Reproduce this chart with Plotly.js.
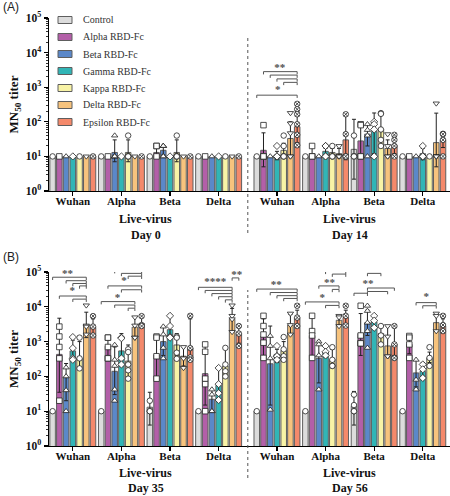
<!DOCTYPE html>
<html><head><meta charset="utf-8">
<script src="https://cdn.plot.ly/plotly-3.0.1.min.js"></script>
<style>html,body{margin:0;padding:0;background:#fff}#chart{width:450px;height:496px}</style>
</head><body><div id="chart"></div>
<script>
// ---------------- data ----------------
const groupNames = ['Wuhan','Alpha','Beta','Delta','Wuhan','Alpha','Beta','Delta'];
const seriesNames = ['Control','Alpha RBD-Fc','Beta RBD-Fc','Gamma RBD-Fc','Kappa RBD-Fc','Delta RBD-Fc','Epsilon RBD-Fc'];
const dayLabelsA = ['Day 0','Day 14'];
const dayLabelsB = ['Day 35','Day 56'];
const axisLabel = 'Live-virus';
const yTitle = 'MN<sub>50</sub> titer';
const yTickVals = [1,10,100,1000,10000,100000];
const yTickText = ['10<sup>0</sup>','10<sup>1</sup>','10<sup>2</sup>','10<sup>3</sup>','10<sup>4</sup>','10<sup>5</sup>'];

// Panel A (Day 0 | Day 14): [series][group]
const meanA = [
  [10,10,10,10, 10,10,16,10],
  [10,10,13,10, 15,12,28,10],
  [10,13,15,10, 10,10,44,10],
  [10,10,10,10, 11,14,52,12],
  [10,13,13,10, 15,13,61,10],
  [10,10,10,10, 33,12,17,25],
  [10,10,10,10, 72,30,21,30]
];
const upperA = [
  [null,null,null,null, null,null,118,null],
  [null,null,20,null, 48,18,80,null],
  [null,30,20,null, null,null,85,null],
  [null,null,null,null, 14,17,180,17],
  [null,30,30,null, 24,17,180,null],
  [null,null,null,null, 100,17,30,178],
  [null,null,null,null, 200,165,44,44]
];
const lowerA = [
  [null,null,null,null, null,null,2.2,null],
  [null,null,9,null, 5,9,10,null],
  [null,7,11,null, null,null,20,null],
  [null,null,null,null, 8,11,12,8],
  [null,7,7,null, 9,10,20,null],
  [null,null,null,null, 10,9,10,5],
  [null,null,null,null, 25,8,12,18]
];
const pointsA = [
  [[10],[10],[10],[10],[10],[10],[40,10,10,10],[10]],
  [[10],[10],[20,20,10],[10],[80,10,10,10],[20,10,10],[85,80,10,10],[10]],
  [[10],[40,10,10,10,10],[20,20,20,10,10],[10],[10],[10],[85,58,40,10],[10]],
  [[10],[10],[10],[10],[20,10,10],[20,20,10,10],[100,85,60,10],[20,10,10,10]],
  [[10],[40,10,10,10,10],[40,10,10,10,10],[10],[40,20,10,10,10],[20,10,10,10],[178,170,60,30,20],[10]],
  [[10],[10],[10],[10],[180,90,47,10,10],[20,10,10,10],[44,20,10,10],[340,10,10,10,10]],
  [[10],[10],[10],[10],[330,230,165,85,42,21],[165,44,10,10],[42,30,20,10],[45,44,30,10]]
];

// Panel B (Day 35 | Day 56)
const meanB = [
  [10,10,13,10, 10,10,14,10],
  [430,740,420,120, 1400,1500,1700,830],
  [95,140,1000,22, 230,330,3500,126],
  [540,540,2200,55, 430,510,3700,140],
  [330,275,800,200, 560,310,1700,340],
  [3000,2600,380,4400, 3000,4100,750,3500],
  [2600,3300,650,1700, 4900,4900,850,2800]
];
const upperB = [
  [null,null,35,null, null,null,37,null],
  [4700,1300,1400,830, 4500,5500,6400,1500],
  [235,700,2700,42, 2800,1050,8000,300],
  [1100,1700,5000,175, 600,800,5500,250],
  [1000,800,1700,660, 1000,600,2900,500],
  [7000,5000,700,9000, 6000,5500,2800,6400],
  [4500,5000,4500,3000, 8000,8000,2800,4500]
];
const lowerB = [
  [null,null,4,null, null,null,4,null],
  [35,400,90,15, 400,400,400,450],
  [20,30,400,10, 15,65,1500,50],
  [280,200,1200,20, 250,350,2500,100],
  [170,90,400,100, 350,200,900,250],
  [1300,1300,200,2000, 1600,3000,380,2000],
  [1700,2800,300,900, 2800,2900,400,2000]
];
const pointsB = [
  [[10],[10],[20,10,10],[10],[10],[10],[30,15,10,10],[10]],
  [[2700,1400,700,330,20],[1300,1300,700,330,330],[1400,1300,380,86],[830,510,86,60,10],[5500,2800,1600,930,340],[5500,2000,1500,340],[10700,1500,900,890],[1450,1300,830,340]],
  [[180,100,40,10],[800,300,200,42,20],[2700,1600,660,330],[42,30,10,10],[1450,750,330,11],[1000,830,400,42],[10700,7600,3500,2000,660],[300,80,42]],
  [[1350,650,330,300],[1300,1250,330,220],[5500,2800,1400,1300],[175,60,33,21],[750,380,380,300],[750,510,400],[5500,4000,2500],[220,160,90]],
  [[1300,330,170],[600,500,220,150,86],[1400,1300,480,320],[660,220,140,100],[1350,600,380,300],[690,300,200,200],[2800,1500,830],[690,340,200]],
  [[11000,2900,2700,1600],[5000,2900,1300,1300],[700,330,175],[11000,5500,4400,1900],[6400,3000,1600],[5500,5000,2800],[2800,1400,380,380],[6400,5500,2000]],
  [[5400,2700,1500],[5400,3000,2800],[5500,650,350,300],[2800,1700,750],[10700,4900,2800],[10700,5500,2900],[2800,830,340,340],[5500,3000,2000]]
];

// significance brackets: [group, fromSeries, toSeries, log10 level]
const bracketsA = [[4,1,6,3.45],[4,2,6,3.35],[4,3,6,3.24],[4,4,6,3.14],[4,0,6,2.77]];
const starsA = [[4,3.4,3.56,'**'],[4,3.1,2.90,'*']];
const bracketsB = [
  [0,0,5,4.85],[0,2,5,4.75],[0,3,5,4.67],[0,4,5,4.60],[0,1,5,4.31],[0,3,5,4.22],
  [1,0,6,5.18],[1,2,6,5.04],[1,3,6,4.96],[1,4,6,4.88],[1,1,6,4.60],[1,3,6,4.49],[1,0,5,4.15],[1,2,5,4.05],[1,4,5,3.96],
  [3,0,5,4.56],[3,1,5,4.47],[3,2,5,4.38],[3,3,5,4.29],[3,4,5,4.20],[3,5,6,4.83],
  [4,0,6,4.51],[4,2,6,4.41],[4,3,6,4.32],[4,4,6,4.24],
  [5,0,6,5.23],[5,2,6,5.12],[5,3,6,5.02],[5,4,6,4.94],[5,2,5,4.60],[5,4,5,4.50],[5,0,5,4.14],[5,3,5,4.04],
  [6,2,4,4.96],[6,2,6,4.54],[6,2,5,4.44],[6,0,2,4.39],
  [7,2,5,4.12],[7,3,5,4.03]
];
const starsB = [
  [0,2.2,4.93,'**'],[0,2.9,4.45,'*'],
  [1,2.9,5.28,'**'],[1,3.4,4.73,'*'],[1,2.4,4.25,'*'],
  [3,2.5,4.70,'****'],[3,5.7,4.92,'**'],
  [4,2.9,4.63,'**'],
  [5,3.1,5.41,'**'],[5,3.6,4.68,'**'],[5,2.5,4.26,'*'],
  [6,3.1,5.05,'*'],[6,2.1,4.64,'**'],
  [7,3.5,4.28,'*']
];

// ---------------- style / layout ----------------
const seriesColors = ['#dcdcdc','#b35fa8','#5b88c9','#31b5b6','#f8f3a6','#f7c37d','#f4896b'];
const seriesSymbols = ['circle','square','triangle-up','diamond','circle','triangle-down','circle-x'];
const groupPos = [0,1,2,3,4.2,5.2,6.2,7.2];
const W = 450, H = 496;
const BARGAP = 0.03, BARGROUPGAP = 0.18;
const slot = (1 - BARGAP) / seriesNames.length;
const barX = (g, s) => groupPos[g] + (s - (seriesNames.length - 1) / 2) * slot;
const py = p => 1 - p / H;
const serif = 'Liberation Serif, Times New Roman, serif';

const traces = [];
function buildPanel(means, ups, los, pts, brackets, stars, xa, ya) {
  seriesNames.forEach((name, s) => {
    const plus = means[s].map((m, g) => ups[s][g] == null ? NaN : ups[s][g] - m);
    const minus = means[s].map((m, g) => los[s][g] == null ? NaN : m - los[s][g]);
    traces.push({
      type: 'bar', name: name, x: groupPos, y: means[s], xaxis: xa, yaxis: ya,
      marker: {color: seriesColors[s], line: {color: '#5e5e5e', width: 1}},
      error_y: {type: 'data', symmetric: false, array: plus, arrayminus: minus, color: '#222', thickness: 1, width: 2},
      showlegend: false, hoverinfo: 'skip'
    });
  });
  seriesNames.forEach((name, s) => {
    const xs = [], ys = [];
    pts[s].forEach((vals, g) => vals.forEach(v => { xs.push(barX(g, s)); ys.push(v); }));
    traces.push({
      type: 'scatter', mode: 'markers', x: xs, y: ys, xaxis: xa, yaxis: ya,
      marker: {symbol: seriesSymbols[s], size: 5.5, color: '#fff', line: {color: '#222', width: 0.8}},
      showlegend: false, cliponaxis: false, hoverinfo: 'skip'
    });
  });
  const bx = [], by = [], d = 0.08;
  brackets.forEach(([g, a, b, lv]) => {
    const x1 = barX(g, a), x2 = barX(g, b);
    bx.push(x1, x1, x2, x2, null);
    by.push(Math.pow(10, lv - d), Math.pow(10, lv), Math.pow(10, lv), Math.pow(10, lv - d), null);
  });
  traces.push({type: 'scatter', mode: 'lines', x: bx, y: by, xaxis: xa, yaxis: ya,
    line: {color: '#555555', width: 1}, showlegend: false, cliponaxis: false, hoverinfo: 'skip'});
  traces.push({type: 'scatter', mode: 'text', xaxis: xa, yaxis: ya,
    x: stars.map(([g, i]) => barX(g, i)), y: stars.map(r => Math.pow(10, r[2])), text: stars.map(r => r[3]),
    textposition: 'middle center', textfont: {family: serif, size: 11, color: '#505050', weight: 'bold'},
    showlegend: false, cliponaxis: false, hoverinfo: 'skip'});
}
buildPanel(meanA, upperA, lowerA, pointsA, bracketsA, starsA, 'x', 'y');
buildPanel(meanB, upperB, lowerB, pointsB, bracketsB, starsB, 'x2', 'y2');

const xDomain = [49 / W, 1];
const xRange = [-0.49, 7.76];
function xAxis(anchor) {
  return {domain: xDomain, range: xRange, anchor: anchor, showline: true, linecolor: '#000', linewidth: 1.3,
    ticks: 'outside', ticklen: 4, tickwidth: 1.2, tickcolor: '#000', tickmode: 'array', tickvals: groupPos, ticktext: groupNames,
    ticklabelstandoff: -5,
    tickfont: {family: serif, size: 11, color: '#111', weight: 'bold'}, showgrid: false, zeroline: false, fixedrange: true};
}
function yAxis(domain, anchor) {
  return {domain: domain, type: 'log', range: [0, 5], anchor: anchor, showline: true, linecolor: '#000', linewidth: 1.3,
    ticks: 'outside', ticklen: 4, tickwidth: 1.2, tickcolor: '#000', tickmode: 'array', tickvals: yTickVals, ticktext: yTickText,
    minor: {ticks: 'outside', ticklen: 2, tickwidth: 0.8, tickcolor: '#000', dtick: 'D1'},
    tickfont: {family: serif, size: 11.5, color: '#111', weight: 'bold'}, showgrid: false, zeroline: false, fixedrange: true,
    title: {text: yTitle, font: {family: serif, size: 13, color: '#111', weight: 'bold'}, standoff: 4}};
}
const yDomA = [py(191), py(18)], yDomB = [py(446), py(272)];
const sepX = (groupPos[3] + groupPos[4]) / 2;
const midL = (groupPos[1] + groupPos[2]) / 2, midR = (groupPos[5] + groupPos[6]) / 2;

const txt = (text, x, y, xref, size) => ({text: text, x: x, y: y, xref: xref, yref: 'paper', showarrow: false,
  xanchor: 'center', yanchor: 'middle', font: {family: serif, size: size, color: '#111', weight: 'bold'}});
const annotations = [
  txt(axisLabel, midL, py(219), 'x', 12), txt(dayLabelsA[0], midL, py(235), 'x', 12),
  txt(axisLabel, midR, py(219), 'x', 12), txt(dayLabelsA[1], midR, py(235), 'x', 12),
  txt(axisLabel, midL, py(473), 'x2', 12), txt(dayLabelsB[0], midL, py(488), 'x2', 12),
  txt(axisLabel, midR, py(473), 'x2', 12), txt(dayLabelsB[1], midR, py(488), 'x2', 12),
  {text: '(A)', x: 1 / W, y: py(7), xref: 'paper', yref: 'paper', showarrow: false, xanchor: 'left', yanchor: 'middle',
    font: {family: 'Liberation Sans, Arial, sans-serif', size: 12, color: '#222'}},
  {text: '(B)', x: 1 / W, y: py(257), xref: 'paper', yref: 'paper', showarrow: false, xanchor: 'left', yanchor: 'middle',
    font: {family: 'Liberation Sans, Arial, sans-serif', size: 12, color: '#222'}}
];
const sepLine = (xref, top, bottom) => ({type: 'line', xref: xref, yref: 'paper', x0: sepX, x1: sepX, y0: py(bottom), y1: py(top),
  line: {color: '#555', width: 1, dash: 'dot'}});
const shapes = [sepLine('x', 35, 233), sepLine('x2', 290, 478)];

// legend (compact, like the original: 17 px rows, 14x7 swatches)
const LEG_TOP = 20, LEG_STEP = 17, SW_X0 = 58, SW_X1 = 72, SW_H = 7, LEG_TX = 81;
seriesNames.forEach((name, s) => {
  const yc = LEG_TOP + s * LEG_STEP;
  shapes.push({type: 'rect', xref: 'paper', yref: 'paper', x0: SW_X0 / W, x1: SW_X1 / W, y0: py(yc + SW_H / 2), y1: py(yc - SW_H / 2),
    fillcolor: seriesColors[s], line: {color: '#5e5e5e', width: 1}});
  annotations.push({text: name, x: LEG_TX / W, y: py(yc), xref: 'paper', yref: 'paper', xanchor: 'left', yanchor: 'middle',
    showarrow: false, font: {family: serif, size: 10, color: '#333'}});
});

const layout = {
  width: W, height: H, margin: {l: 0, r: 0, t: 0, b: 0},
  paper_bgcolor: '#fff', plot_bgcolor: 'rgba(0,0,0,0)',
  barmode: 'group', bargap: BARGAP, bargroupgap: BARGROUPGAP,
  hovermode: false, showlegend: false,
  xaxis: xAxis('y'), yaxis: yAxis(yDomA, 'x'),
  xaxis2: xAxis('y2'), yaxis2: yAxis(yDomB, 'x2'),
  annotations: annotations, shapes: shapes
};
Plotly.newPlot('chart', traces, layout, {displayModeBar: false, staticPlot: true});
</script></body></html>
